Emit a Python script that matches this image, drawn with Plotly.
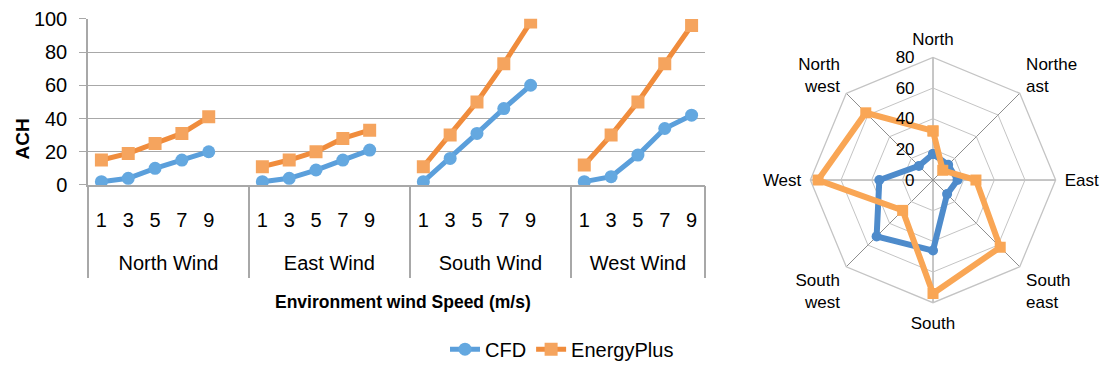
import plotly.graph_objects as go

# ---------------- data ----------------
groups = ["North Wind", "East Wind", "South Wind", "West Wind"]
speeds = ["1", "3", "5", "7", "9"]

cfd_north = [2, 4, 10, 15, 20]
cfd_east = [2, 4, 9, 15, 21]
cfd_south = [2, 16, 31, 46, 60]
cfd_west = [2, 5, 18, 34, 42]

ep_north = [15, 19, 25, 31, 41]
ep_east = [11, 15, 20, 28, 33]
ep_south = [11, 30, 50, 73, 98]
ep_west = [12, 30, 50, 73, 96]

directions = ["North", "Northe<br>ast", "East", "South<br>east", "South",
              "South<br>west", "West", "North<br>west"]
cfd_radar = [17, 14, 16, 13, 46, 52, 35, 13]
ep_radar = [32, 9, 28, 62, 74, 28, 75, 62]

y_ticks = [0, 20, 40, 60, 80, 100]
r_ticks = [0, 20, 40, 60, 80]

# ---------------- categories (one empty slot after each group except the last) ----
cfd_groups = [cfd_north, cfd_east, cfd_south, cfd_west]
ep_groups = [ep_north, ep_east, ep_south, ep_west]
cats, tick_cats, tick_text, y_cfd, y_ep = [], [], [], [], []
group_start, group_end = [], []
for gi, g in enumerate(groups):
    group_start.append(len(cats))
    for si, s in enumerate(speeds):
        key = f"{g} {s}"
        cats.append(key)
        tick_cats.append(key)
        tick_text.append(s)
        y_cfd.append(cfd_groups[gi][si])
        y_ep.append(ep_groups[gi][si])
    if gi < len(groups) - 1:
        cats.append(f"{g} gap")
        y_cfd.append(None)
        y_ep.append(None)
    group_end.append(len(cats))

n_slots = len(cats)
x_range = [-0.5, n_slots - 0.5]
group_centers = [(s + e - 1) / 2 for s, e in zip(group_start, group_end)]
group_bounds = [s - 0.5 for s in group_start] + [group_end[-1] - 0.5]

SANS = "Liberation Sans, Arial, sans-serif"

BLUE_L, BLUE_M = "#5B9FDB", "#64A8E0"
ORNG_L, ORNG_M = "#F08C3C", "#F5A45E"
BLUE_R, ORNG_R = "#4E8BCB", "#F9A655"

fig = go.Figure()

fig.add_trace(go.Scatter(
    x=cats, y=y_cfd, name="CFD", mode="lines+markers",
    line=dict(color=BLUE_L, width=5),
    marker=dict(symbol="circle", size=13, color=BLUE_M),
    connectgaps=False, xaxis="x", yaxis="y"))
fig.add_trace(go.Scatter(
    x=cats, y=y_ep, name="EnergyPlus", mode="lines+markers",
    line=dict(color=ORNG_L, width=5),
    marker=dict(symbol="square", size=13, color=ORNG_M),
    connectgaps=False, xaxis="x", yaxis="y"))

# empty helper traces so the overlay axes (group labels / dividers) get drawn
for ax in ("x2", "x3"):
    fig.add_trace(go.Scatter(x=[None], y=[None], xaxis=ax, yaxis="y",
                             mode="lines", showlegend=False, hoverinfo="skip"))

fig.add_trace(go.Scatterpolar(
    r=cfd_radar + cfd_radar[:1], theta=directions + directions[:1],
    mode="lines+markers", line=dict(color=BLUE_R, width=6),
    marker=dict(symbol="circle", size=10, color=BLUE_R),
    showlegend=False, subplot="polar"))
fig.add_trace(go.Scatterpolar(
    r=ep_radar + ep_radar[:1], theta=directions + directions[:1],
    mode="lines+markers", line=dict(color=ORNG_R, width=6),
    marker=dict(symbol="square", size=11, color=ORNG_R),
    showlegend=False, subplot="polar"))

W, H = 1103, 369
XDOM = [88 / W, 705 / W]
GRAY = "#a8a8a8"

fig.update_layout(
    width=W, height=H,
    margin=dict(l=0, r=0, t=0, b=0),
    paper_bgcolor="white", plot_bgcolor="white",
    font=dict(family=SANS, size=20, color="black"),
    xaxis=dict(
        type="category", categoryorder="array", categoryarray=cats,
        domain=XDOM, range=x_range,
        tickvals=tick_cats, ticktext=tick_text,
        showline=True, linecolor=GRAY, linewidth=1.5,
        showgrid=False, ticks="", ticklabelstandoff=16,
        tickfont=dict(size=20), automargin=False,
    ),
    xaxis2=dict(
        overlaying="x", anchor="y", domain=XDOM, range=x_range,
        tickvals=group_centers, ticktext=groups, ticks="",
        showgrid=False, showline=False, zeroline=False,
        ticklabelstandoff=64, tickfont=dict(size=20), automargin=False,
        side="bottom",
    ),
    xaxis3=dict(
        overlaying="x", anchor="y", domain=XDOM, range=x_range,
        tickvals=group_bounds, ticks="outside", ticklen=92, tickwidth=1.5,
        tickcolor=GRAY, showticklabels=False,
        showgrid=False, showline=False, zeroline=False, automargin=False,
        side="bottom",
    ),
    yaxis=dict(
        domain=[1 - 187 / H, 1 - 19 / H], range=[0, 100],
        tickvals=y_ticks, showline=True, linecolor=GRAY, linewidth=1.5,
        ticks="outside", ticklen=7, tickcolor=GRAY,
        showgrid=True, gridcolor=GRAY, gridwidth=1.2, zeroline=False,
        tickfont=dict(size=20), ticklabelstandoff=8,
        automargin=False,
    ),
    polar=dict(
        domain=dict(x=[(933 - 124) / W, (933 + 124) / W],
                    y=[1 - 306 / H, 1 - 58 / H]),
        bgcolor="white", gridshape="linear",
        radialaxis=dict(range=[0, 80], tickvals=r_ticks, angle=90,
                        tickangle=90, side="counterclockwise",
                        showline=False, ticks="outside", ticklen=12,
                        tickcolor="rgba(0,0,0,0)", gridcolor="#c4c4c4",
                        gridwidth=1.3,
                        tickfont=dict(family=SANS, size=17)),
        angularaxis=dict(direction="clockwise", rotation=90,
                         ticks="outside", ticklen=5,
                         tickcolor="rgba(0,0,0,0)",
                         gridcolor="#8e8e8e", gridwidth=1.3,
                         showline=True, linecolor="#c4c4c4", linewidth=1.3,
                         tickfont=dict(family=SANS, size=17)),
    ),
    legend=dict(orientation="h", x=562 / W, y=1 - 353 / H, xanchor="center",
                yanchor="middle", font=dict(family=SANS, size=20),
                bgcolor="rgba(0,0,0,0)", entrywidth=0),
    annotations=[
        dict(text="<b>ACH</b>", x=22 / W, y=1 - 141 / H, xref="paper",
             yref="paper", showarrow=False, textangle=-90,
             xanchor="center", yanchor="middle",
             font=dict(family=SANS, size=19)),
        dict(text="<b>Environment wind Speed (m/s)</b>", x=403 / W,
             y=1 - 305 / H, xref="paper", yref="paper", showarrow=False,
             xanchor="center", yanchor="middle",
             font=dict(family=SANS, size=17.5)),
    ],
)

fig.write_html("out.html")
